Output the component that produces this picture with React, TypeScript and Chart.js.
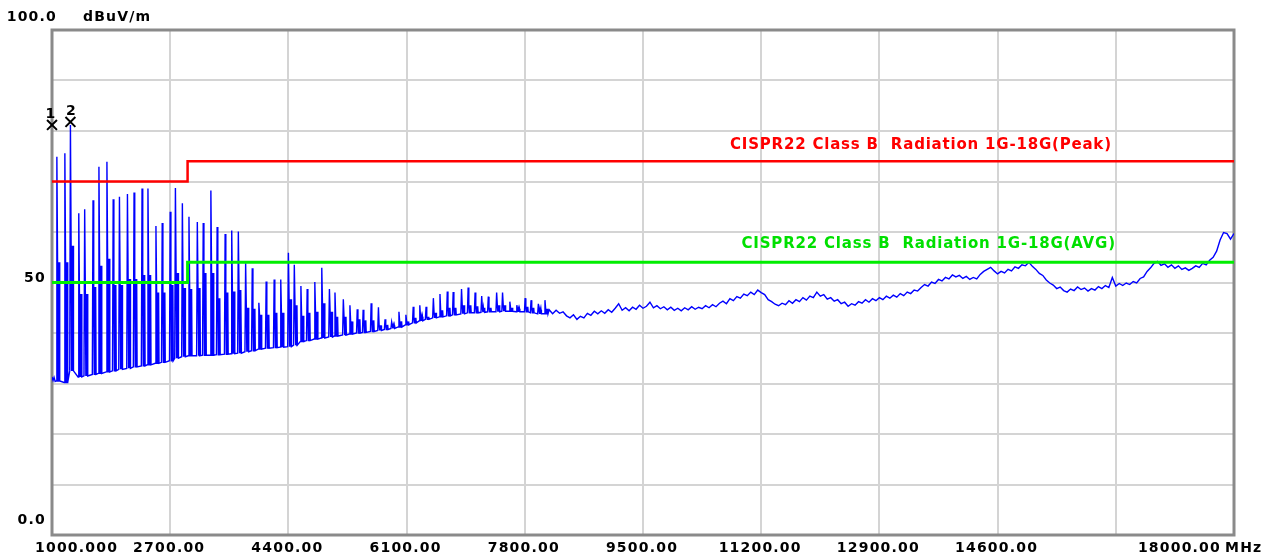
import React, { useEffect, useRef } from 'react';
import { Chart, registerables } from 'chart.js';

Chart.register(...registerables);

// ---- axis ticks ----
const xTicks = [1000, 2700, 4400, 6100, 7800, 9500, 11200, 12900, 14600, 16300, 18000];
const xTickLabels = ['1000.000', '2700.00', '4400.00', '6100.00', '7800.00', '9500.00', '11200.00', '12900.00', '14600.00', '', '18000.00'];
const yTicks = [0, 10, 20, 30, 40, 50, 60, 70, 80, 90, 100];
const yLabelValues = [100, 50, 0];
const yLabelTexts = ['100.0', '50', '0.0'];
const yUnit = 'dBuV/m';
const xUnit = 'MHz';

// ---- limit lines ----
const limitFreqs = [1000, 2950, 2950, 18000];
const peakLimit = [70, 70, 74, 74];
const avgLimit = [50, 50, 54, 54];
const peakLimitName = 'CISPR22 Class B  Radiation 1G-18G(Peak)';
const avgLimitName = 'CISPR22 Class B  Radiation 1G-18G(AVG)';

// ---- markers ----
const markerFreqs = [1000, 1265];
const markerLevels = [81.2, 81.8];
const markerNames = ['1', '2'];

// ---- measured trace: start ----
const leadFreqs = [1000, 1015, 1030, 1045];
const leadLevels = [31.3, 30.6, 31.2, 30.4];

// ---- measured trace: harmonic spikes ----
const spikeFreqs = [
  1070, 1185, 1265, 1385, 1470, 1590, 1675, 1790, 1880, 1970,
  2085, 2180, 2295, 2380, 2495, 2585, 2700, 2775, 2875, 2970,
  3090, 3175, 3285, 3375, 3490, 3585, 3680, 3785, 3880, 3975,
  4080, 4195, 4290, 4400, 4485, 4580, 4670, 4780, 4880, 4990,
  5070, 5190, 5285, 5390, 5475, 5590, 5695, 5790, 5885, 5990,
  6090, 6195, 6290, 6380, 6485, 6580, 6685, 6770, 6890, 6985,
  7085, 7180, 7275, 7395, 7480, 7585, 7685, 7805, 7890, 7995, 8090,
];
const spikePeaks = [
  74.9, 75.6, 81.2, 63.7, 64.5, 66.3, 72.9, 73.9, 66.5, 67.0,
  67.5, 67.8, 68.6, 68.6, 61.2, 61.8, 64.0, 68.7, 65.7, 63.0,
  62.0, 61.8, 68.2, 61.0, 59.6, 60.3, 60.1, 53.8, 52.8, 46.0,
  50.2, 50.6, 50.6, 55.9, 53.5, 49.3, 48.7, 50.1, 52.9, 48.7,
  48.0, 46.7, 45.5, 44.7, 44.6, 45.9, 45.1, 42.7, 42.2, 44.2,
  43.6, 45.2, 45.5, 45.2, 46.9, 47.7, 48.2, 48.1, 48.7, 49.0,
  48.0, 47.3, 47.2, 48.0, 48.0, 46.2, 45.5, 46.9, 46.5, 45.8, 46.5,
];
const spikeMids = [
  54.0, 54.0, 57.3, 47.7, 47.7, 49.1, 53.3, 54.7, 49.5, 49.5,
  50.7, 50.7, 51.5, 51.5, 48.0, 48.0, 49.5, 51.9, 48.9, 48.7,
  48.9, 51.9, 51.9, 46.9, 48.0, 48.2, 48.5, 45.0, 44.8, 43.6,
  43.6, 44.0, 44.0, 46.7, 45.5, 43.4, 44.0, 44.2, 45.9, 44.2,
  43.2, 43.2, 42.3, 42.7, 42.5, 42.5, 41.5, 41.6, 41.5, 42.3,
  42.3, 43.0, 43.2, 43.2, 44.0, 44.5, 45.0, 45.0, 45.5, 45.5,
  45.3, 45.0, 45.0, 45.5, 45.5, 45.0, 44.8, 45.2, 45.0, 44.6, 44.8,
];
const spikeFloors = [
  30.5, 30.2, 32.5, 31.3, 31.5, 31.8, 32.0, 32.3, 32.5, 32.8,
  33.0, 33.3, 33.5, 33.7, 34.0, 34.2, 34.5, 35.0, 35.3, 35.5,
  35.5, 35.6, 35.6, 35.7, 35.8, 35.9, 36.0, 36.3, 36.5, 36.8,
  37.0, 37.1, 37.2, 37.3, 37.6, 38.3, 38.5, 38.8, 39.0, 39.2,
  39.4, 39.6, 39.8, 40.0, 40.1, 40.3, 40.5, 40.7, 40.9, 41.2,
  41.6, 42.0, 42.4, 42.7, 43.0, 43.2, 43.4, 43.6, 43.8, 44.0,
  44.0, 44.1, 44.2, 44.2, 44.3, 44.3, 44.2, 44.2, 44.0, 43.8, 43.8,
];

// ---- measured trace: upper band noise floor ----
const tailFreqs = [
  8150, 8200, 8250, 8300, 8350, 8400, 8450, 8500, 8550, 8600, 8650, 8700, 8750, 8800, 8850, 8900, 8950, 9000,
  9050, 9100, 9150, 9200, 9250, 9300, 9350, 9400, 9450, 9500, 9550, 9600, 9650, 9700, 9750, 9800, 9850, 9900, 9950, 10000,
  10050, 10100, 10150, 10200, 10250, 10300, 10350, 10400, 10450, 10500, 10550, 10600, 10650, 10700, 10750, 10800, 10850, 10900, 10950, 11000,
  11050, 11100, 11150, 11200, 11250, 11300, 11350, 11400, 11450, 11500, 11550, 11600, 11650, 11700, 11750, 11800, 11850, 11900, 11950, 12000,
  12050, 12100, 12150, 12200, 12250, 12300, 12350, 12400, 12450, 12500, 12550, 12600, 12650, 12700, 12750, 12800, 12850, 12900, 12950, 13000,
  13050, 13100, 13150, 13200, 13250, 13300, 13350, 13400, 13450, 13500, 13550, 13600, 13650, 13700, 13750, 13800, 13850, 13900, 13950, 14000,
  14050, 14100, 14150, 14200, 14250, 14300, 14350, 14400, 14450, 14500, 14550, 14600, 14650, 14700, 14750, 14800, 14850, 14900, 14950, 15000,
  15050, 15100, 15150, 15200, 15250, 15300, 15350, 15400, 15450, 15500, 15550, 15600, 15650, 15700, 15750, 15800, 15850, 15900, 15950, 16000,
  16050, 16100, 16150, 16200, 16250, 16300, 16350, 16400, 16450, 16500, 16550, 16600, 16650, 16700, 16750, 16800, 16850, 16900, 16950, 17000,
  17050, 17100, 17150, 17200, 17250, 17300, 17350, 17400, 17450, 17500, 17550, 17600, 17650, 17700, 17750, 17800, 17850, 17900, 17950, 18000,
];
const tailLevels = [
  44.6, 43.8, 44.5, 43.9, 44.2, 43.4, 43.0, 43.6, 42.7, 43.3, 43.0, 43.9, 43.5, 44.3, 43.8, 44.4, 43.9, 44.6,
  44.1, 44.9, 45.8, 44.5, 45.0, 44.4, 45.1, 44.7, 45.5, 44.9, 45.3, 46.1, 45.0, 45.4, 44.8, 45.2, 44.6, 45.1, 44.5, 44.9,
  44.4, 45.0, 44.6, 45.2, 44.7, 45.1, 44.8, 45.4, 45.0, 45.6, 45.2, 45.9, 46.3, 45.8, 46.8, 46.4, 47.2, 46.9, 47.7, 47.4,
  48.1, 47.6, 48.5, 48.0, 47.6, 46.6, 46.2, 45.7, 45.4, 45.9, 45.6, 46.4, 45.9, 46.6, 46.2, 47.0, 46.5, 47.3, 47.0, 48.1,
  47.3, 47.6, 46.7, 47.0, 46.3, 46.6, 45.8, 46.1, 45.3, 45.8, 45.5, 46.2, 45.9, 46.6, 46.1, 46.8, 46.4, 47.0, 46.6, 47.3,
  46.9, 47.5, 47.1, 47.8, 47.4, 48.1, 47.8, 48.5, 48.3, 49.0, 49.6, 49.3, 50.1, 49.8, 50.6, 50.3, 51.0, 50.7, 51.5, 51.1,
  51.4, 50.8, 51.2, 50.6, 51.0, 50.7, 51.6, 52.2, 52.6, 53.0, 52.3, 51.7, 52.2, 51.9, 52.6, 52.3, 53.1, 52.8, 53.5, 53.3,
  54.0, 53.2, 52.6, 51.8, 51.4, 50.5, 49.9, 49.5, 48.8, 49.1, 48.4, 48.1, 48.7, 48.4, 49.1, 48.6, 48.9, 48.3, 48.8, 48.5,
  49.2, 48.8, 49.4, 49.0, 51.0, 49.3, 49.8, 49.4, 49.9, 49.6, 50.2, 49.9, 50.8, 51.1, 52.2, 52.9, 53.8, 54.2, 53.4, 53.7,
  53.0, 53.5, 52.8, 53.3, 52.6, 52.9, 52.4, 52.8, 53.3, 53.0, 53.8, 53.5, 54.4, 55.0, 56.2, 58.4, 59.9, 59.7, 58.6, 59.7,
];

function buildTrace() {
  const pts: { x: number; y: number }[] = [];
  leadFreqs.forEach((f, i) => pts.push({ x: f, y: leadLevels[i] }));
  spikeFreqs.forEach((f, i) => {
    pts.push({ x: f - 10, y: spikeFloors[i] });
    pts.push({ x: f, y: spikePeaks[i] });
    pts.push({ x: f + 10, y: spikeMids[i] });
    pts.push({ x: f + 17, y: spikeFloors[i] });
    pts.push({ x: f + 24, y: spikeMids[i] });
    pts.push({ x: f + 31, y: spikeFloors[i] });
    pts.push({ x: f + 38, y: spikeMids[i] });
    pts.push({ x: f + 44, y: spikeFloors[i] });
  });
  tailFreqs.forEach((f, i) => pts.push({ x: f, y: tailLevels[i] }));
  return pts;
}

const FONT = 'bold 14px "DejaVu Sans", sans-serif';
const LEGEND_FONT = 'bold 15px "DejaVu Sans", sans-serif';

const overlayPlugin = {
  id: 'overlay',
  beforeDraw(chart: any) {
    const { ctx, width, height } = chart;
    ctx.save();
    ctx.fillStyle = '#ffffff';
    ctx.fillRect(0, 0, width, height);
    ctx.restore();
  },
  beforeDatasetsDraw(chart: any) {
    const { ctx, chartArea: a } = chart;
    ctx.save();
    ctx.strokeStyle = '#8a8a8a';
    ctx.lineWidth = 3;
    ctx.strokeRect(a.left, a.top, a.right - a.left, a.bottom - a.top);
    ctx.restore();
  },
  afterDraw(chart: any) {
    const { ctx, chartArea: a } = chart;
    const xs = chart.scales.x;
    const ys = chart.scales.y;
    ctx.save();
    ctx.font = FONT;
    ctx.fillStyle = '#000000';
    ctx.textBaseline = 'middle';
    (ctx as any).letterSpacing = '1.2px';

    // x labels
    const ly = a.bottom + 13;
    xTicks.forEach((v, i) => {
      const t = xTickLabels[i];
      if (!t) return;
      const px = xs.getPixelForValue(v);
      if (i === 0) {
        ctx.textAlign = 'left';
        ctx.fillText(t, px - 17, ly);
      } else if (i === xTicks.length - 1) {
        ctx.textAlign = 'right';
        ctx.fillText(t, px - 13, ly);
        ctx.textAlign = 'left';
        ctx.fillText(xUnit, px - 9, ly);
      } else {
        ctx.textAlign = 'center';
        ctx.fillText(t, px - 1, ly);
      }
    });

    // y labels
    yLabelValues.forEach((v, i) => {
      const py = ys.getPixelForValue(v);
      ctx.textAlign = 'right';
      if (v === 100) {
        ctx.fillText(yLabelTexts[i], a.left + 5, py - 13);
        ctx.textAlign = 'left';
        ctx.fillText(yUnit, a.left + 31, py - 13);
      } else if (v === 0) {
        ctx.fillText(yLabelTexts[i], a.left - 6, py - 15);
      } else {
        ctx.fillText(yLabelTexts[i], a.left - 6, py - 4);
      }
    });

    // marker labels
    ctx.textAlign = 'center';
    markerFreqs.forEach((f, i) => {
      const px = xs.getPixelForValue(f);
      const py = ys.getPixelForValue(markerLevels[i]);
      ctx.fillText(markerNames[i], px - (i === 0 ? 1 : -1), py - 11);
    });

    // limit names
    ctx.font = LEGEND_FONT;
    (ctx as any).letterSpacing = '0.8px';
    ctx.textAlign = 'right';
    ctx.fillStyle = '#ff0000';
    ctx.fillText(peakLimitName, xs.getPixelForValue(16300) - 4, ys.getPixelForValue(peakLimit[3]) - 16);
    ctx.fillStyle = '#00e000';
    ctx.fillText(avgLimitName, xs.getPixelForValue(16300), ys.getPixelForValue(avgLimit[3]) - 18);
    ctx.restore();
  },
};

export default function App() {
  const ref = useRef<HTMLCanvasElement>(null);
  useEffect(() => {
    document.body.style.margin = '0';
    const canvas = ref.current!;
    const chart = new Chart(canvas, {
      type: 'line',
      data: {
        datasets: [
          {
            label: 'markers',
            data: markerFreqs.map((f, i) => ({ x: f, y: markerLevels[i] })),
            showLine: false,
            pointStyle: 'crossRot',
            pointRadius: 7,
            pointBorderWidth: 2,
            borderColor: '#000000',
            backgroundColor: '#000000',
            clip: false as any,
            order: -1,
          },
          {
            label: 'peak',
            data: limitFreqs.map((f, i) => ({ x: f, y: peakLimit[i] })),
            borderColor: '#ff0000',
            borderWidth: 2.5,
            pointRadius: 0,
            tension: 0,
            order: 0,
          },
          {
            label: 'avg',
            data: limitFreqs.map((f, i) => ({ x: f, y: avgLimit[i] })),
            borderColor: '#00ee00',
            borderWidth: 3,
            pointRadius: 0,
            tension: 0,
            order: 0,
          },
          {
            label: 'trace',
            data: buildTrace(),
            borderColor: '#0000ff',
            borderWidth: 1.4,
            pointRadius: 0,
            tension: 0,
            order: 2,
          },
        ],
      },
      options: {
        animation: false,
        responsive: false,
        devicePixelRatio: 1,
        layout: { padding: { left: 52, right: 51, top: 30, bottom: 23 } },
        plugins: { legend: { display: false }, tooltip: { enabled: false } },
        events: [],
        scales: {
          x: {
            type: 'linear',
            min: 1000,
            max: 18000,
            afterBuildTicks: (s: any) => {
              s.ticks = xTicks.map((v) => ({ value: v }));
            },
            afterFit: (s: any) => {
              s.height = 0;
            },
            ticks: { display: false },
            grid: { color: '#d4d4d4', lineWidth: 2, drawTicks: false },
            border: { display: false },
          },
          y: {
            type: 'linear',
            min: 0,
            max: 100,
            afterBuildTicks: (s: any) => {
              s.ticks = yTicks.map((v) => ({ value: v }));
            },
            afterFit: (s: any) => {
              s.width = 0;
            },
            ticks: { display: false },
            grid: { color: '#d4d4d4', lineWidth: 2, drawTicks: false },
            border: { display: false },
          },
        },
      },
      plugins: [overlayPlugin],
    });
    return () => chart.destroy();
  }, []);
  return (
    <div style={{ width: 1285, height: 558, background: '#ffffff' }}>
      <canvas ref={ref} width={1285} height={558} style={{ display: 'block' }} />
    </div>
  );
}
